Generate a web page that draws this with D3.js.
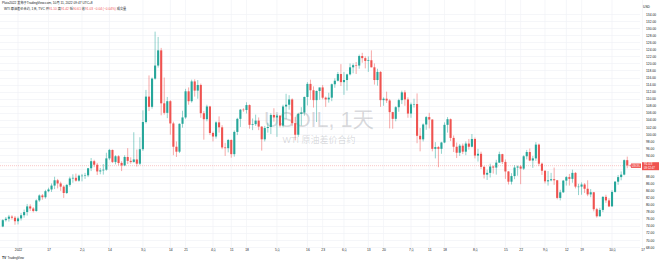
<!DOCTYPE html>
<html>
<head>
<meta charset="utf-8">
<script src="https://cdn.jsdelivr.net/npm/d3@7"></script>
<style>
    body { margin: 0; background: #ffffff; }
    svg { display: block; font-family: "Liberation Sans", "Noto Sans CJK SC", sans-serif; }
    .axis path, .axis line { display: none; }
    .axis text { fill: #131722; font-size: 3.3px; }
</style>
</head>
<body>
<div id="chart"></div>
<script>
// USOIL daily bars, 27 Dec 2021 -> 11 Oct 2022 (open, high, low, close)
const bars = [
    // Dec 2021
    [73.8, 75.9, 73.6, 75.6], [75.6, 76.5, 75.2, 76.0], [76.0, 77.1, 75.2, 76.6], [76.6, 77.0, 75.8, 76.3], [76.3, 76.8, 74.3, 75.3],
    // Jan
    [75.3, 76.6, 74.4, 76.1], [76.1, 77.6, 75.5, 77.0], [77.0, 78.6, 76.3, 77.9], [77.9, 80.2, 76.9, 79.5], [79.5, 80.1, 78.2, 78.9],
    [78.9, 79.3, 77.8, 78.2], [78.2, 81.5, 78.0, 81.2], [81.2, 82.9, 80.8, 82.6], [82.6, 83.0, 81.4, 82.1], [82.1, 84.2, 81.7, 83.8],
    [83.8, 84.8, 83.5, 84.3], [84.3, 86.0, 83.6, 85.4], [85.4, 87.9, 84.4, 86.9], [86.9, 87.3, 84.6, 86.0], [86.0, 86.5, 83.9, 85.1],
    [85.1, 85.5, 81.9, 83.3], [83.3, 85.8, 83.0, 85.6], [85.6, 87.9, 85.1, 87.4], [87.4, 88.6, 86.2, 87.6], [87.6, 88.8, 86.5, 86.8],
    [86.8, 88.5, 86.5, 88.2],
    // Feb
    [88.2, 88.7, 86.6, 88.2], [88.2, 89.0, 87.3, 88.3], [88.3, 90.4, 87.8, 90.3], [90.3, 93.2, 89.5, 92.3],
    [92.3, 92.7, 90.6, 91.3], [91.3, 91.8, 88.4, 89.4], [89.4, 90.4, 88.6, 89.7], [89.7, 91.5, 88.5, 89.9], [89.9, 94.7, 89.6, 93.1],
    [93.1, 95.8, 92.6, 95.5], [95.5, 95.6, 91.8, 92.1], [92.1, 94.0, 91.4, 93.7], [93.7, 94.0, 91.1, 91.8], [91.8, 92.3, 89.5, 91.1],
    [91.1, 94.0, 90.9, 93.5], [93.5, 96.0, 91.5, 92.4], [92.4, 93.4, 91.6, 92.1], [92.1, 100.5, 91.9, 92.8], [92.8, 95.6, 90.8, 91.6],
    [91.6, 99.1, 91.2, 95.7],
    // Mar
    [95.7, 106.7, 95.2, 103.4], [103.4, 112.5, 103.0, 110.6], [110.6, 116.6, 106.5, 107.7], [107.7, 116.0, 107.2, 115.7],
    [115.7, 129.0, 115.4, 119.4], [119.4, 127.5, 118.8, 123.7], [123.7, 124.4, 105.3, 108.7], [108.7, 116.0, 105.5, 106.0], [106.0, 110.5, 104.5, 109.3],
    [109.3, 109.6, 99.8, 103.0], [103.0, 103.5, 94.0, 96.4], [96.4, 97.9, 93.5, 95.0], [95.0, 103.0, 94.6, 102.9], [102.9, 106.6, 101.8, 104.7],
    [104.7, 112.8, 104.3, 112.1], [112.1, 113.2, 108.3, 109.3], [109.3, 115.4, 108.9, 114.9], [114.9, 115.5, 110.6, 112.3], [112.3, 115.3, 110.0, 113.9],
    [113.9, 114.3, 104.6, 105.9], [105.9, 106.5, 98.4, 104.2], [104.2, 108.3, 103.6, 107.8], [107.8, 108.0, 99.7, 100.3],
    // Apr
    [100.3, 100.7, 97.9, 99.3],
    [99.3, 103.6, 98.7, 103.3], [103.3, 105.0, 100.4, 101.9], [101.9, 102.5, 95.7, 96.2], [96.2, 97.5, 93.8, 96.0], [96.0, 98.6, 94.8, 98.3],
    [98.3, 98.5, 93.3, 94.3], [94.3, 101.0, 93.6, 100.6], [100.6, 104.6, 99.7, 104.3], [104.3, 107.1, 102.0, 106.9], [106.9, 107.3, 106.3, 106.8],
    [106.8, 109.0, 105.8, 108.2], [108.2, 108.4, 101.5, 102.6], [102.6, 104.4, 101.1, 102.8], [102.8, 105.5, 102.3, 103.8], [103.8, 104.7, 101.1, 102.1],
    [102.1, 102.2, 95.3, 98.5], [98.5, 102.3, 97.9, 101.7], [101.7, 103.2, 100.4, 102.0], [102.0, 105.9, 100.0, 105.4], [105.4, 107.3, 103.5, 104.7],
    // May
    [104.7, 105.6, 99.2, 105.2], [105.2, 105.4, 101.9, 102.4], [102.4, 108.3, 101.9, 107.8], [107.8, 111.4, 104.3, 108.3], [108.3, 111.0, 106.9, 109.8],
    [109.8, 110.1, 102.2, 103.1], [103.1, 104.8, 98.2, 99.8], [99.8, 106.0, 99.2, 105.7], [105.7, 107.6, 102.4, 106.1], [106.1, 110.6, 105.2, 110.5],
    [110.5, 114.7, 108.1, 114.2], [114.2, 115.4, 109.7, 112.4], [112.4, 113.5, 107.5, 109.6], [109.6, 112.3, 103.4, 112.2], [112.2, 113.1, 109.7, 113.2],
    [113.2, 113.9, 109.8, 110.3], [110.3, 110.6, 107.7, 109.8], [109.8, 111.7, 108.9, 110.3], [110.3, 114.3, 109.3, 114.1], [114.1, 115.8, 113.1, 115.1],
    [115.1, 117.6, 114.9, 117.0], [117.0, 119.8, 113.6, 114.7],
    // Jun
    [114.7, 117.6, 111.1, 115.3], [115.3, 117.1, 112.3, 116.9], [116.9, 120.0, 116.6, 118.9],
    [118.9, 120.0, 117.2, 119.5], [119.5, 120.4, 117.0, 119.4], [119.4, 122.5, 118.5, 122.1], [122.1, 123.0, 120.2, 121.5], [121.5, 122.0, 118.6, 120.7],
    [120.7, 122.0, 117.6, 120.9], [120.9, 123.7, 118.9, 118.9], [118.9, 120.0, 114.0, 115.3], [115.3, 118.5, 113.7, 117.6], [117.6, 117.8, 107.7, 109.6],
    [109.6, 110.4, 108.0, 110.0], [110.0, 112.0, 108.8, 109.5], [109.5, 109.9, 101.6, 106.2], [106.2, 106.3, 101.5, 104.3], [104.3, 107.9, 103.6, 107.6],
    [107.6, 110.0, 106.3, 109.6], [109.6, 112.3, 108.5, 111.8], [111.8, 112.4, 108.0, 109.8], [109.8, 110.4, 104.6, 105.8],
    // Jul
    [105.8, 108.9, 104.6, 108.4],
    [108.4, 110.0, 107.5, 108.5], [108.5, 111.5, 97.4, 99.5], [99.5, 101.7, 95.1, 98.5], [98.5, 103.0, 97.9, 102.7], [102.7, 105.1, 101.2, 104.8],
    [104.8, 106.0, 101.6, 104.1], [104.1, 104.2, 95.1, 95.8], [95.8, 97.7, 93.1, 96.3], [96.3, 96.6, 90.6, 95.8], [95.8, 97.8, 94.4, 97.6],
    [97.6, 103.3, 97.4, 102.6], [102.6, 104.8, 100.4, 104.2], [104.2, 104.4, 98.0, 98.9], [98.9, 99.6, 94.9, 96.4], [96.4, 97.6, 93.2, 94.7],
    [94.7, 97.2, 93.8, 96.7], [96.7, 97.3, 94.3, 95.0], [95.0, 97.9, 94.0, 97.3], [97.3, 98.6, 95.6, 96.4], [96.4, 100.0, 96.2, 98.6],
    // Aug
    [98.6, 99.0, 93.1, 93.9], [93.9, 95.8, 92.2, 94.4], [94.4, 95.0, 90.1, 90.7], [90.7, 91.0, 87.4, 88.5], [88.5, 89.9, 87.0, 89.0],
    [89.0, 91.6, 87.7, 90.8], [90.8, 91.1, 88.8, 90.5], [90.5, 92.7, 88.5, 91.9], [91.9, 95.0, 91.8, 94.3], [94.3, 94.4, 91.5, 92.1],
    [92.1, 92.8, 87.3, 89.4], [89.4, 89.5, 85.7, 86.5], [86.5, 88.9, 85.7, 88.1], [88.1, 91.2, 87.2, 90.5], [90.5, 91.1, 88.2, 90.8],
    [90.8, 91.2, 85.8, 90.2], [90.2, 94.0, 89.8, 93.7], [93.7, 95.5, 92.8, 94.9], [94.9, 95.9, 92.3, 92.5], [92.5, 93.8, 90.4, 93.1],
    [93.1, 97.7, 92.4, 97.0], [97.0, 97.3, 90.9, 91.6], [91.6, 91.9, 88.4, 89.6],
    // Sep
    [89.6, 89.7, 86.0, 86.6], [86.6, 89.5, 85.4, 86.9],
    [86.9, 89.0, 86.6, 87.2], [87.2, 90.5, 85.6, 86.9], [86.9, 87.0, 81.5, 81.9], [81.9, 84.2, 81.2, 83.5], [83.5, 87.0, 83.3, 86.8],
    [86.8, 88.1, 85.4, 87.8], [87.8, 88.7, 85.4, 87.3], [87.3, 89.9, 86.2, 89.0], [89.0, 89.2, 84.6, 85.1], [85.1, 85.9, 82.7, 85.1],
    [85.1, 86.3, 82.8, 85.7], [85.7, 86.1, 83.3, 84.5], [84.5, 86.9, 82.4, 82.9], [82.9, 84.4, 82.1, 83.5], [83.5, 83.6, 78.1, 78.7],
    [78.7, 79.1, 76.3, 76.7], [76.7, 79.1, 76.6, 78.5], [78.5, 82.4, 77.9, 82.2], [82.2, 82.8, 80.5, 81.2], [81.2, 81.8, 79.3, 79.5],
    // Oct
    [79.5, 84.1, 79.5, 83.6], [83.6, 86.7, 83.4, 86.5], [86.5, 88.4, 85.6, 87.8], [87.8, 89.4, 86.9, 88.5], [88.5, 92.8, 88.3, 92.6],
    [92.6, 93.6, 90.3, 91.1], [91.1, 91.4, 90.6, 91.03]
];

// time axis labels (bar index -> text)
const timeTicks = [5, 15, 26, 35, 46, 55, 60, 69, 75, 80, 90, 100, 105, 112, 120, 125, 134, 140, 145, 155, 165, 170, 178, 185, 190, 200, 210];
const timeLabels = ["2022", "17", "2月", "14", "3月", "14", "21", "4月", "11", "18", "5月", "16", "23", "6月", "13", "20",
                    "7月", "11", "18", "8月", "15", "22", "9月", "12", "19", "10月", "17"];

// price axis
const priceTicks = d3.range(68, 135, 2);
const lastPrice = 91.03;

const params = {
    selector: "chart",
    width: 660,
    height: 261,
    plotRight: 640,
    plotTop: 14,
    plotBottom: 247,
    up: "#26a69a",
    down: "#ef5350",
    grid: "#f0f2f6"
};

const svg = d3.select(`#${params.selector}`)
    .append("svg")
    .attr("width", params.width)
    .attr("height", params.height)
    .attr("viewBox", `0 0 ${params.width} ${params.height}`);

const xScale = d3.scaleLinear()
    .domain([0, 206])
    .range([2.8, 630.3]);

const yScale = d3.scaleLinear()
    .domain([68, 134])
    .range([params.plotBottom, params.plotTop]);

const yLast = yScale(lastPrice);

// grid
svg.append("g")
    .selectAll("line")
    .data(priceTicks)
    .join("line")
    .attr("x1", 0)
    .attr("x2", params.plotRight)
    .attr("y1", d => Math.round(yScale(d)) + 0.5)
    .attr("y2", d => Math.round(yScale(d)) + 0.5)
    .attr("stroke", params.grid)
    .attr("stroke-width", 0.7);

svg.append("g")
    .selectAll("line")
    .data(timeTicks)
    .join("line")
    .attr("x1", d => xScale(d))
    .attr("x2", d => xScale(d))
    .attr("y1", 0)
    .attr("y2", params.plotBottom)
    .attr("stroke", params.grid)
    .attr("stroke-width", 0.7);

// watermark
svg.append("text")
    .attr("x", 319)
    .attr("y", 127)
    .attr("text-anchor", "middle")
    .attr("font-size", 21.5)
    .attr("fill", "rgba(120,123,134,0.28)")
    .text("USOIL, 1天");

svg.append("text")
    .attr("x", 319)
    .attr("y", 143)
    .attr("text-anchor", "middle")
    .attr("font-size", 9)
    .attr("fill", "rgba(120,123,134,0.28)")
    .text("WTI 原油差价合约");

// last price line
svg.append("line")
    .attr("x1", 0)
    .attr("x2", params.plotRight)
    .attr("y1", yLast)
    .attr("y2", yLast)
    .attr("stroke", "#ef5350")
    .attr("stroke-opacity", 0.55)
    .attr("stroke-width", 0.6)
    .attr("stroke-dasharray", "1,1");

// candles
const candles = svg.append("g")
    .selectAll("g")
    .data(bars)
    .join("g")
    .attr("fill", d => d[3] >= d[0] ? params.up : params.down)
    .attr("stroke", d => d[3] >= d[0] ? params.up : params.down);

candles.append("line")
    .attr("x1", (d, i) => xScale(i))
    .attr("x2", (d, i) => xScale(i))
    .attr("y1", d => yScale(d[1]))
    .attr("y2", d => yScale(d[2]))
    .attr("stroke-width", 0.5);

candles.append("rect")
    .attr("x", (d, i) => xScale(i) - 1.05)
    .attr("width", 2.1)
    .attr("y", d => yScale(Math.max(d[0], d[3])))
    .attr("height", d => Math.max(0.5, Math.abs(yScale(d[0]) - yScale(d[3]))))
    .attr("stroke", "none");

// price axis (labels hidden behind the last price box are skipped)
svg.append("g")
    .attr("class", "axis")
    .attr("transform", `translate(${params.plotRight + 3}, 0)`)
    .call(d3.axisRight(yScale)
        .tickValues(priceTicks.filter(p => Math.abs(yScale(p) - yLast) > 6))
        .tickSize(0)
        .tickFormat(d3.format(".2f")));

svg.append("text")
    .attr("x", params.plotRight + 3)
    .attr("y", 8)
    .attr("font-size", 3.3)
    .attr("fill", "#131722")
    .text("USD");

// time axis
svg.append("g")
    .attr("class", "axis")
    .attr("transform", `translate(0, ${params.plotBottom})`)
    .call(d3.axisBottom(xScale).tickValues(timeTicks).tickSize(0).tickPadding(2)
        .tickFormat((d, i) => timeLabels[i]));

// last price labels
svg.append("rect")
    .attr("x", 631)
    .attr("y", yLast - 2.2)
    .attr("width", 10)
    .attr("height", 4.4)
    .attr("fill", "#ef5350");

svg.append("text")
    .attr("x", 636)
    .attr("y", yLast + 1.1)
    .attr("text-anchor", "middle")
    .attr("font-size", 2.8)
    .attr("fill", "#ffffff")
    .text("USOIL");

svg.append("rect")
    .attr("x", 642)
    .attr("y", yLast - 3.5)
    .attr("width", 17)
    .attr("height", 8)
    .attr("fill", "#ef5350");

svg.append("text")
    .attr("x", 644)
    .attr("y", yLast - 0.3)
    .attr("font-size", 3.3)
    .attr("fill", "#ffffff")
    .text(d3.format(".2f")(lastPrice));

svg.append("text")
    .attr("x", 644)
    .attr("y", yLast + 3.4)
    .attr("font-size", 2.8)
    .attr("fill", "#ffffff")
    .text("09:12:47");

// header
svg.append("text")
    .attr("x", 2)
    .attr("y", 4)
    .attr("font-size", 3.2)
    .attr("fill", "#131722")
    .text("Pluto2022 发布于TradingView.com, 10月 11, 2022 09:47 UTC+8");

const header = svg.append("text")
    .attr("x", 4)
    .attr("y", 10)
    .attr("font-size", 3.2)
    .attr("fill", "#131722");

const headerParts = [
    ["WTI 原油差价合约, 1天, TVC  ", "#131722"],
    ["开", "#131722"], ["91.10 ", "#ef5350"],
    ["高", "#131722"], ["91.42 ", "#ef5350"],
    ["低", "#131722"], ["90.61 ", "#ef5350"],
    ["收", "#131722"], ["91.03 ", "#ef5350"],
    ["−0.04 (−0.04%)  ", "#ef5350"],
    ["成交量", "#131722"]
];

header.selectAll("tspan")
    .data(headerParts)
    .join("tspan")
    .attr("fill", d => d[1])
    .text(d => d[0]);

// footer logo
svg.append("text")
    .attr("x", 2)
    .attr("y", 259)
    .attr("font-size", 3.4)
    .attr("font-weight", "bold")
    .attr("fill", "#131722")
    .text("TV");

svg.append("text")
    .attr("x", 7.5)
    .attr("y", 259)
    .attr("font-size", 3)
    .attr("fill", "#131722")
    .text("TradingView");
</script>
</body>
</html>
